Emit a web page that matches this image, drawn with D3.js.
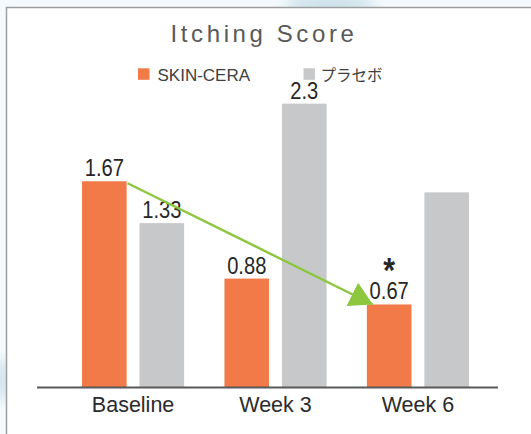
<!DOCTYPE html>
<html>
<head>
<meta charset="utf-8">
<script src="https://cdn.jsdelivr.net/npm/d3@7"></script>
<style>
  body { margin: 0; background: #f3f9fc; overflow: hidden; }
  svg { display: block; }
</style>
</head>
<body>
<div id="chart"></div>
<script>
// data
const categories = ["Baseline", "Week 3", "Week 6"];
const seriesNames = ["SKIN-CERA", "プラセボ"];
const skinCera = [1.67, 0.88, 0.67];
const placebo = [1.33, 2.3, 1.58];
const skinCeraLabels = ["1.67", "0.88", "0.67"];
const placeboLabels = ["1.33", "2.3", ""]; // week 6 placebo has no label
const skinCeraMarks = ["", "", "*"];       // significance mark
const placeboMarks = ["", "", ""];

const colors = { "SKIN-CERA": "#f27a49", "プラセボ": "#c7c8ca" };

const W = 531, H = 434;

const svg = d3.select("#chart")
  .append("svg")
  .attr("width", W)
  .attr("height", H);

// soft background behind the card
const defs = svg.append("defs");
defs.append("filter").attr("id", "blur")
  .append("feGaussianBlur").attr("stdDeviation", 6);

svg.append("rect").attr("width", W).attr("height", H).attr("fill", "#f3f9fc");
svg.append("ellipse").attr("cx", 330).attr("cy", 4).attr("rx", 45).attr("ry", 8)
  .attr("fill", "#c9dfe9").attr("filter", "url(#blur)");
svg.append("ellipse").attr("cx", 2).attr("cy", 380).attr("rx", 6).attr("ry", 22)
  .attr("fill", "#c9dfe9").attr("filter", "url(#blur)");

// the white card
svg.append("rect")
  .attr("x", 6.5).attr("y", 7.5)
  .attr("width", 560).attr("height", 460)
  .attr("fill", "#fff")
  .attr("stroke", "#9d9d9d")
  .attr("stroke-width", 1.5);

// scales
const x0 = d3.scaleBand()
  .domain(categories)
  .range([82, 469])
  .paddingInner(0.283);

const x1 = d3.scaleBand()
  .domain(seriesNames)
  .range([0, x0.bandwidth()])
  .paddingInner(0.224);

const y = d3.scaleLinear()
  .domain([0, 2.5])
  .range([387, 79]);

// title
svg.append("text")
  .attr("x", 264)
  .attr("y", 42)
  .attr("text-anchor", "middle")
  .style("font-family", "'Liberation Sans', Arial, sans-serif")
  .style("font-size", "24px")
  .style("letter-spacing", "3.6px")
  .style("fill", "#595959")
  .text("Itching Score");

// legend
const legendPos = [{ sx: 138, tx: 157.5 }, { sx: 303.5, tx: 320.5 }];
const legend = svg.selectAll(".legend")
  .data(seriesNames)
  .enter().append("g")
  .attr("class", "legend");

legend.append("rect")
  .attr("x", (d, i) => legendPos[i].sx)
  .attr("y", 68.3)
  .attr("width", 11.5)
  .attr("height", 11.5)
  .style("fill", d => colors[d]);

legend.append("text")
  .attr("x", (d, i) => legendPos[i].tx)
  .attr("y", 81)
  .text(d => d)
  .style("font-family", (d, i) => i === 0 ? "'Liberation Sans', Arial, sans-serif" : "'Noto Sans CJK JP', sans-serif")
  .style("font-size", (d, i) => i === 0 ? "17px" : "15.5px")
  .style("fill", "#404040");

// bars
const rows = categories.map((c, i) => ({
  cat: c,
  vals: [
    { s: seriesNames[0], v: skinCera[i], label: skinCeraLabels[i], mark: skinCeraMarks[i] },
    { s: seriesNames[1], v: placebo[i], label: placeboLabels[i], mark: placeboMarks[i] }
  ]
}));

const groups = svg.append("g")
  .selectAll("g")
  .data(rows)
  .enter().append("g")
  .attr("transform", d => "translate(" + x0(d.cat) + ",0)");

groups.selectAll("rect")
  .data(d => d.vals)
  .enter().append("rect")
  .attr("x", d => x1(d.s))
  .attr("y", d => y(d.v))
  .attr("width", x1.bandwidth())
  .attr("height", d => y(0) - y(d.v))
  .style("fill", d => colors[d.s]);

// axis: base line and category labels
svg.append("line")
  .attr("x1", 37).attr("x2", 498)
  .attr("y1", 387.5).attr("y2", 387.5)
  .attr("stroke", "#595959")
  .attr("stroke-width", 2);

const xAxis = svg.append("g")
  .attr("transform", "translate(0," + y(0) + ")")
  .call(d3.axisBottom(x0).tickSize(0).tickPadding(9.5));
xAxis.select(".domain").remove();
xAxis.selectAll("text")
  .style("font-family", "'Liberation Sans', Arial, sans-serif")
  .style("font-size", "21.5px")
  .style("fill", "#2b2b2b");

// green arrow from baseline to week 6 (SKIN-CERA)
defs.append("marker")
  .attr("id", "arrowhead")
  .attr("markerUnits", "userSpaceOnUse")
  .attr("markerWidth", 24)
  .attr("markerHeight", 26)
  .attr("refX", 23)
  .attr("refY", 13)
  .attr("orient", "auto")
  .append("path")
  .attr("d", "M0,0 L23,13 L0,26 Z")
  .attr("fill", "#8dc63f");

const ax1 = x0(categories[0]) + x1(seriesNames[0]) + x1.bandwidth() + 1;
const ay1 = y(skinCera[0]) + 2;
const ax2 = x0(categories[2]) + x1(seriesNames[0]) + 6;
const ay2 = y(skinCera[2]);
svg.append("line")
  .attr("x1", ax1).attr("y1", ay1)
  .attr("x2", ax2).attr("y2", ay2)
  .attr("stroke", "#8dc63f")
  .attr("stroke-width", 2.4)
  .attr("marker-end", "url(#arrowhead)");

// value labels (narrow look: squeeze horizontally), with the mark stacked above
const vals = groups.selectAll(".val")
  .data(d => d.vals.filter(v => v.label !== ""))
  .enter().append("text")
  .attr("class", "val")
  .attr("transform", d => "translate(" + (x1(d.s) + x1.bandwidth() / 2) + "," + (y(d.v) - 5) + ") scale(0.84,1)")
  .attr("text-anchor", "middle")
  .style("font-family", "'Liberation Sans', Arial, sans-serif")
  .style("font-size", "24px")
  .style("fill", "#262626");

vals.filter(d => d.mark !== "")
  .append("tspan")
  .attr("x", 0)
  .attr("y", -17)
  .style("font-size", "36px")
  .style("font-weight", "bold")
  .text(d => d.mark);

vals.append("tspan")
  .attr("x", 0)
  .attr("y", 0)
  .text(d => d.label);
</script>
</body>
</html>
